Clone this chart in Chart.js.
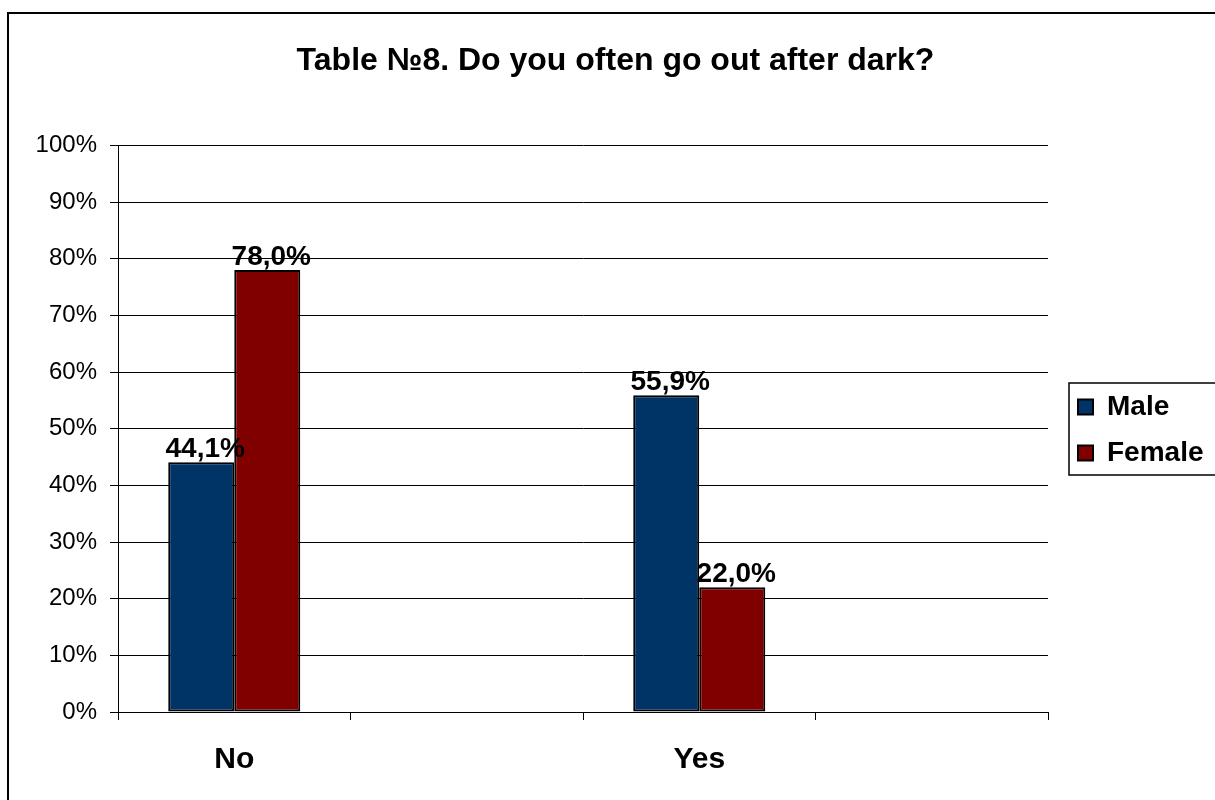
<!DOCTYPE html>
<html>
<head>
<meta charset="utf-8">
<script src="https://cdn.jsdelivr.net/npm/chart.js@4.4.1/dist/chart.umd.min.js"></script>
<style>
  html, body { margin: 0; padding: 0; background: #fff; }
  #wrap { width: 1215px; height: 800px; position: relative; }
</style>
</head>
<body>
<div id="wrap"><canvas id="c" width="1215" height="800"></canvas></div>
<script>
// ---- data ----
const chartTitle = 'Table №8. Do you often go out after dark?';
const categories = ['No', '', 'Yes', ''];
const seriesNames = ['Male', 'Female'];
const maleValues = [44.1, null, 55.9, null];
const femaleValues = [78.0, null, 22.0, null];
const yMin = 0, yMax = 100, yStep = 10;

const FONT = "'Liberation Sans', Arial, sans-serif";

const frame = {
  id: 'frame',
  beforeDraw(chart) {
    const ctx = chart.ctx;
    ctx.save();
    ctx.fillStyle = '#fff';
    ctx.fillRect(0, 0, chart.width, chart.height);
    ctx.strokeStyle = '#000';
    ctx.lineWidth = 2;
    ctx.strokeRect(8, 13, chart.width + 20, chart.height + 20);
    ctx.restore();
  }
};

const legendFix = {
  id: 'legendFix',
  beforeLayout(chart) {
    const lg = chart.legend;
    if (lg && !lg._wrapped) {
      const orig = lg.fit.bind(lg);
      lg.fit = function () { orig(); this.width = 167; };
      lg._wrapped = true;
    }
  },
  afterLayout(chart) {
    const lg = chart.legend;
    if (lg) {
      lg.left = 1060; lg.right = lg.left + lg.width;
      lg.top += 30; lg.bottom += 30;
    }
  },
  afterDraw(chart) {
    const lg = chart.legend;
    if (!lg || !lg.legendHitBoxes || !lg.legendHitBoxes.length) return;
    const hb = lg.legendHitBoxes;
    const first = hb[0], last = hb[hb.length - 1];
    const top = first.top + first.height / 2 - 24;
    const bottom = last.top + last.height / 2 + 22;
    const left = first.left - 9;
    const ctx = chart.ctx;
    ctx.save();
    ctx.strokeStyle = '#000';
    ctx.lineWidth = 1.5;
    ctx.strokeRect(left, top, chart.width - left + 20, bottom - top);
    ctx.restore();
  }
};

const valueLabels = {
  id: 'valueLabels',
  afterDatasetsDraw(chart) {
    const ctx = chart.ctx;
    ctx.save();
    ctx.font = "bold 28px " + FONT;
    ctx.fillStyle = '#000';
    ctx.textAlign = 'center';
    ctx.textBaseline = 'alphabetic';
    chart.data.datasets.forEach((ds, di) => {
      const meta = chart.getDatasetMeta(di);
      meta.data.forEach((el, i) => {
        const v = ds.data[i];
        if (v === null || v === undefined) return;
        const txt = v.toFixed(1).replace('.', ',') + '%';
        ctx.fillText(txt, el.x + 4, el.y - 5);
      });
    });
    ctx.restore();
  }
};

new Chart(document.getElementById('c'), {
  type: 'bar',
  data: {
    labels: categories,
    datasets: [
      { label: seriesNames[0], data: maleValues, backgroundColor: '#003366', borderColor: '#000', borderWidth: 2, borderSkipped: false },
      { label: seriesNames[1], data: femaleValues, backgroundColor: '#800000', borderColor: '#000', borderWidth: 2, borderSkipped: false }
    ]
  },
  options: {
    responsive: false,
    animation: false,
    devicePixelRatio: 1,
    layout: { padding: { left: 16, right: 0, top: 0, bottom: 0 } },
    datasets: { bar: { categoryPercentage: 0.568, barPercentage: 1.0 } },
    plugins: {
      title: {
        display: true,
        text: chartTitle,
        color: '#000',
        font: { family: FONT, size: 32, weight: 'bold' },
        padding: { top: 42, bottom: 65 }
      },
      legend: {
        display: true,
        position: 'right',
        labels: {
          color: '#000',
          font: { family: FONT, size: 28, weight: 'bold' },
          boxWidth: 15,
          boxHeight: 15,
          padding: 18
        }
      },
      tooltip: { enabled: false }
    },
    scales: {
      x: {
        afterFit(s) { s.height = 88; },
        grid: { offset: true, drawOnChartArea: false, drawTicks: true, tickLength: 8, color: '#000', lineWidth: 1 },
        border: { display: true, color: '#000', width: 1 },
        ticks: { color: '#000', font: { family: FONT, size: 30, weight: 'bold' }, padding: 22, maxRotation: 0, autoSkip: false }
      },
      y: {
        min: yMin, max: yMax,
        afterFit(s) { s.width = 102; },
        grid: { drawOnChartArea: true, drawTicks: true, tickLength: 8, color: '#000', lineWidth: 1 },
        border: { display: true, color: '#000', width: 1 },
        ticks: { stepSize: yStep, color: '#000', font: { family: FONT, size: 24 }, padding: 13, callback: v => v + '%' }
      }
    }
  },
  plugins: [frame, legendFix, valueLabels]
});
</script>
</body>
</html>
